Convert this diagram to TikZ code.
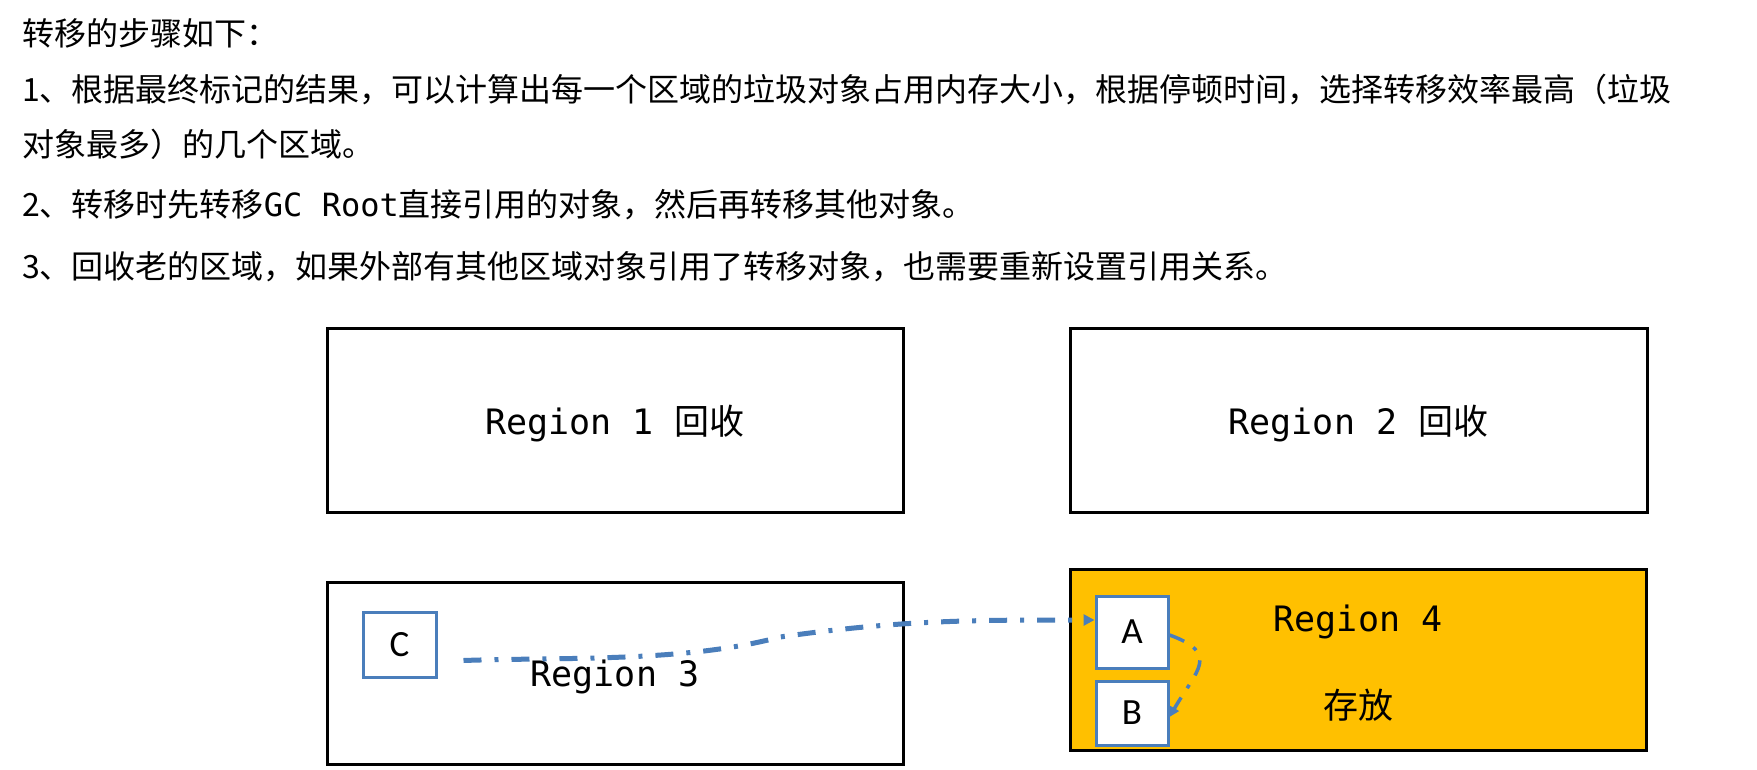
\documentclass[tikz,border=0pt]{standalone}
\usepackage{fontspec}
\setmainfont{Noto Sans CJK SC}
\newfontfamily\monof{DejaVu Sans Mono}
\newfontfamily\labf{Carlito}
\usetikzlibrary{arrows.meta}
\definecolor{boxblue}{HTML}{4A7EBB}
\definecolor{regiongold}{HTML}{FFC000}
\begin{document}
\begin{tikzpicture}[x=1pt,y=-1pt,
  txt/.style={anchor=base west,inner sep=0pt,font=\fontsize{32}{38}\selectfont},
  region/.style={draw=black,line width=3pt,inner sep=0pt},
  lbl/.style={inner sep=0pt,align=center,font=\fontsize{35}{87}\selectfont},
  obj/.style={draw=boxblue,line width=3pt,fill=white,inner sep=0pt,
    font=\labf\fontsize{37}{42}\selectfont},
  conn/.style={draw=boxblue,line width=5pt,
    dash pattern=on 18pt off 13pt on 4pt off 13pt,
    -{Triangle[length=11pt,width=11pt]}},
  conn2/.style={draw=boxblue,line width=3.5pt,
    dash pattern=on 16pt off 11pt on 4pt off 11pt,
    -{Triangle[length=10pt,width=10pt]}}]
\useasboundingbox (0,0) rectangle (1757,770);
\fill[white] (0,0) rectangle (1757,770);

% text
\node[txt] (t0) at (22,46) {转移的步骤如下：};
\node[txt] (t1) at (22,102) {1、根据最终标记的结果，可以计算出每一个区域的垃圾对象占用内存大小，根据停顿时间，选择转移效率最高（垃圾};
\node[txt] (t2) at (22,157) {对象最多）的几个区域。};
\node[txt] (t3) at (22,217) {2、转移时先转移{\monof GC Root}直接引用的对象，然后再转移其他对象。};
\node[txt] (t4) at (22,279) {3、回收老的区域，如果外部有其他区域对象引用了转移对象，也需要重新设置引用关系。};

% regions
\node[region,minimum width=576pt,minimum height=184pt] (r1) at (615,420) {};
\node[region,minimum width=577pt,minimum height=184pt] (r2) at (1358.5,420) {};
\node[region,minimum width=576pt,minimum height=182pt] (r3) at (615,673) {};
\node[region,fill=regiongold,minimum width=576pt,minimum height=181pt] (r4) at (1358,659.5) {};
\node[lbl] (r1t) at ([yshift=-4pt]r1.center) {{\monof Region 1 }回收};
\node[lbl] (r2t) at ([yshift=-4pt]r2.center) {{\monof Region 2 }回收};
\node[lbl] (r3t) at ([yshift=-4pt]r3.center) {{\monof Region 3}};
\node[lbl] (r4t) at ([yshift=-4pt]r4.center) {{\monof Region 4}\\存放};

% objects
\node[obj,minimum width=73pt,minimum height=65pt] (C) at (399.5,644.5) {C};
\node[obj,minimum width=72pt,minimum height=72pt] (A) at (1132,632) {A};
\node[obj,minimum width=72pt,minimum height=64pt] (B) at (1132,713) {B};

% connectors
\coordinate (cstart) at ([xshift=26pt,yshift=-16pt]C.east);
\coordinate (bend) at (780,637);
\draw[conn] (cstart) to[out=2,in=195,looseness=0.8] (bend)
  to[out=8,in=180] ([yshift=12pt]A.west);
\draw[conn2] ([yshift=-3pt]A.east) to[out=-20,in=60,looseness=1.7] ([yshift=-4pt]B.east);
\end{tikzpicture}
\end{document}
